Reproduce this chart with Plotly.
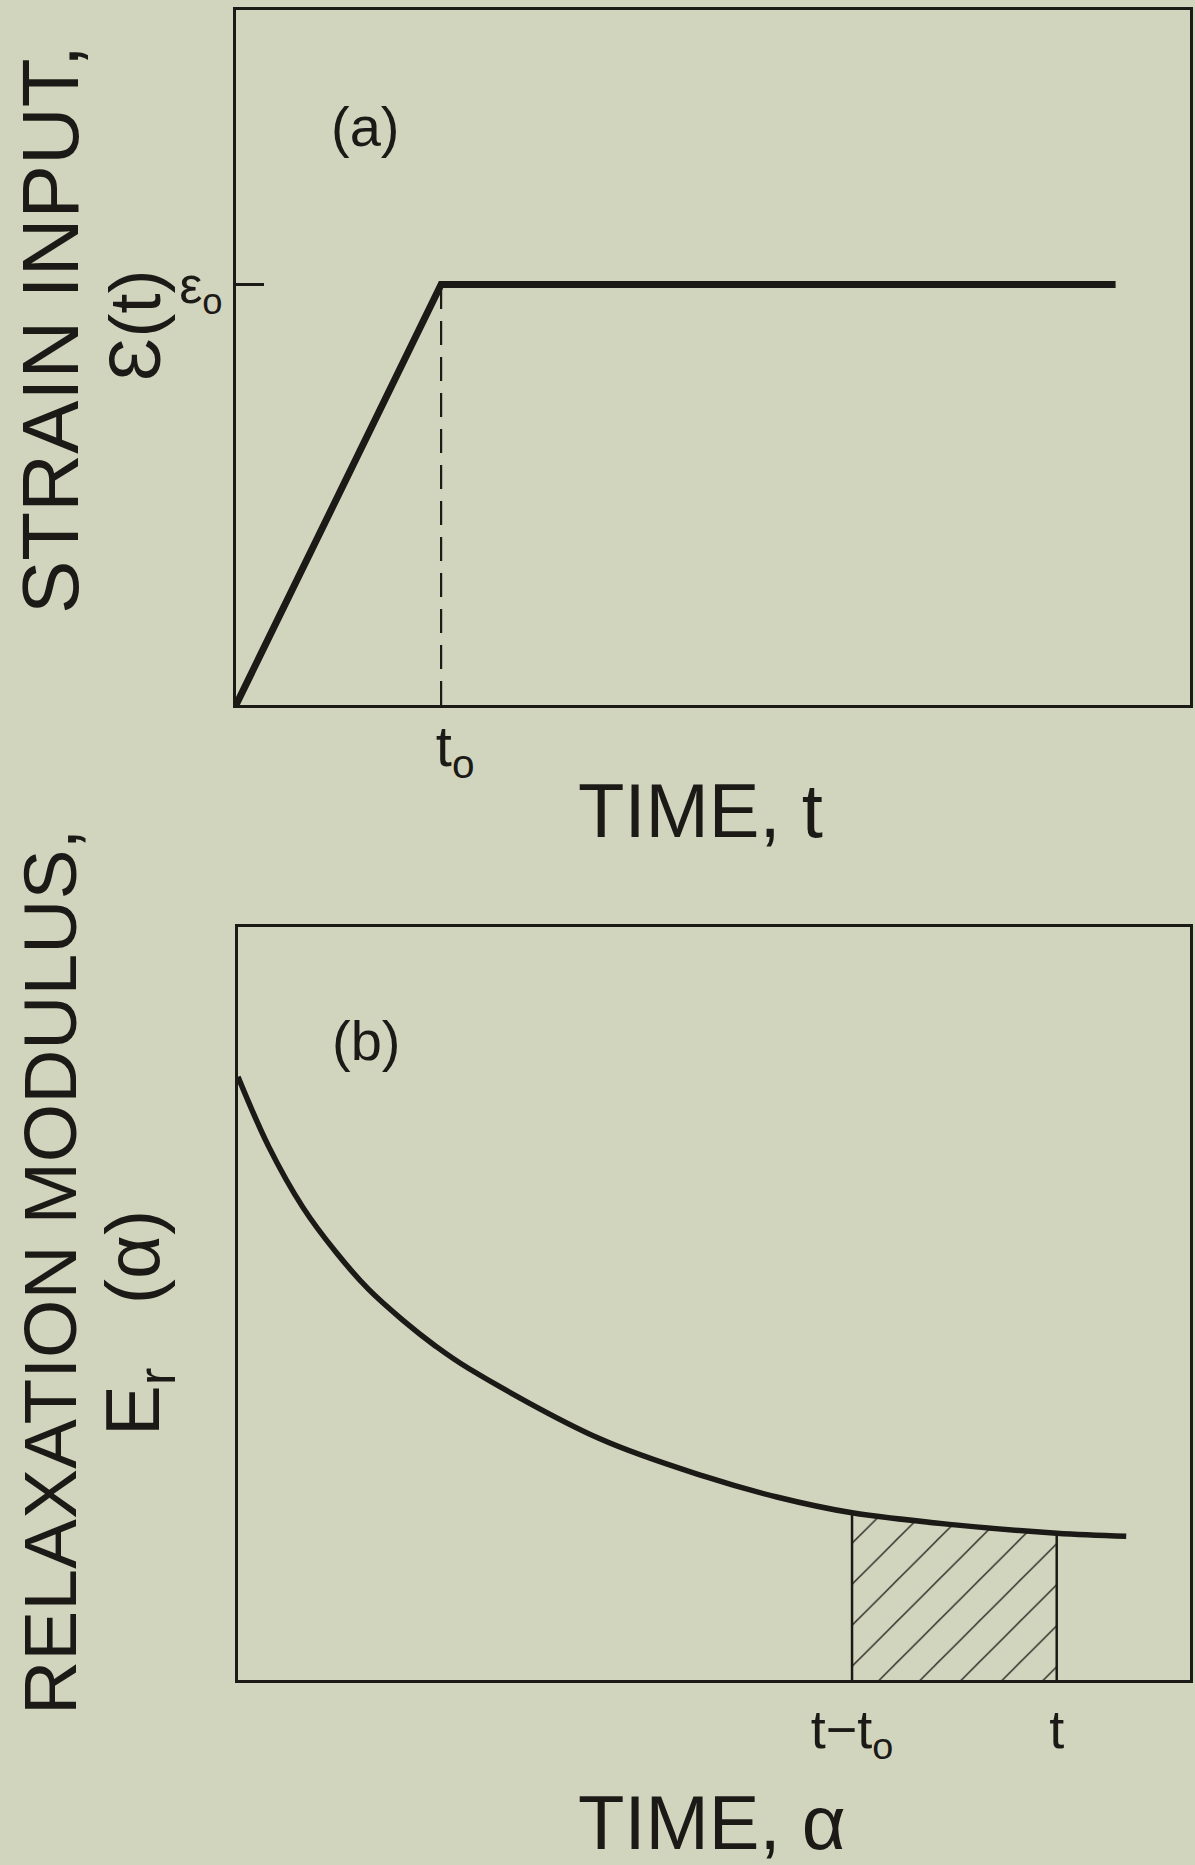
import plotly.graph_objects as go

# ---- Panel (a): ramp-and-hold strain input ----
t0 = 2.15            # end of the ramp
eps0 = 6.05          # held strain level
t_hold_end = 9.22    # where the drawn hold line stops
strain_time = [0.0, t0, t_hold_end]
strain_value = [0.0, eps0, eps0]

# ---- Panel (b): relaxation modulus E_r(alpha) ----
alpha = [0.0, 0.32, 0.68, 1.03, 1.37, 1.73, 2.07, 2.42, 3.79, 4.91, 5.66, 6.45, 7.53, 8.60, 9.33]
modulus = [8.01, 7.09, 6.28, 5.68, 5.19, 4.78, 4.44, 4.14, 3.21, 2.70, 2.43, 2.22, 2.06, 1.95, 1.91]
t_now = 8.60
t_start = 6.45       # t - t0

INK = "#1c1a16"
BG = "#d2d5be"
FONT = "Liberation Sans, Arial, sans-serif"
W, H = 1195, 1865

fig = go.Figure()

# strain ramp and hold
fig.add_trace(go.Scatter(x=strain_time, y=strain_value, mode="lines",
                         line=dict(color=INK, width=7), xaxis="x", yaxis="y"))
# dashed drop line at t0
fig.add_trace(go.Scatter(x=[t0, t0], y=[0, eps0], mode="lines",
                         line=dict(color=INK, width=2.2, dash="24px,12px"),
                         xaxis="x", yaxis="y"))

# hatched area under E_r between t - t0 and t
i0 = alpha.index(t_start)
i1 = alpha.index(t_now)
fig.add_trace(go.Scatter(x=alpha[i0:i1 + 1], y=modulus[i0:i1 + 1], mode="lines",
                         line=dict(width=0, color="rgba(0,0,0,0)"),
                         fill="tozeroy", fillcolor="rgba(0,0,0,0)",
                         fillpattern=dict(shape="/", size=29, solidity=0.045,
                                          fgcolor=INK, bgcolor="rgba(0,0,0,0)",
                                          fillmode="replace"),
                         xaxis="x2", yaxis="y2"))
# sides of the hatched strip
fig.add_trace(go.Scatter(x=[t_start, t_start, None, t_now, t_now],
                         y=[0, modulus[i0], None, 0, modulus[i1]], mode="lines",
                         line=dict(color=INK, width=2.5), xaxis="x2", yaxis="y2"))
# relaxation curve
fig.add_trace(go.Scatter(x=alpha, y=modulus, mode="lines",
                         line=dict(color=INK, width=5.5, shape="spline", smoothing=1.0),
                         xaxis="x2", yaxis="y2"))

frame = dict(showline=True, mirror=True, linewidth=3, linecolor=INK,
             showgrid=False, zeroline=False, range=[0, 10])

fig.update_layout(
    width=W, height=H, margin=dict(l=0, r=0, t=0, b=0),
    paper_bgcolor=BG, plot_bgcolor=BG, showlegend=False,
    font=dict(family=FONT, color=INK),
    xaxis=dict(frame, domain=[236 / W, 1190 / W], anchor="y",
               tickmode="array", tickvals=[t0], ticktext=["t<sub>o</sub>"],
               ticks="", ticklabelstandoff=-12, ticklabelshift=14,
               tickfont=dict(family=FONT, size=58, color=INK)),
    yaxis=dict(frame, domain=[1 - 705 / H, 1 - 10 / H], anchor="x",
               tickmode="array", tickvals=[eps0], ticktext=["ε<sub>o</sub>"],
               ticks="inside", ticklen=28, tickwidth=2.5, tickcolor=INK,
               ticklabelstandoff=0,
               tickfont=dict(family=FONT, size=52, color=INK)),
    xaxis2=dict(frame, domain=[238 / W, 1190 / W], anchor="y2",
                tickmode="array", tickvals=[t_start, t_now],
                ticktext=["t\u2212t<sub>o</sub>", "t"],
                ticks="", ticklabelstandoff=0,
                tickfont=dict(family=FONT, size=54, color=INK)),
    yaxis2=dict(frame, domain=[1 - 1680 / H, 1 - 927 / H], anchor="x2",
                showticklabels=False, ticks=""),
)

def label(text, x, y, size, angle=0):
    fig.add_annotation(text=text, x=x / W, y=1 - y / H, xref="paper", yref="paper",
                       showarrow=False, textangle=angle, xanchor="center", yanchor="middle",
                       font=dict(family=FONT, size=size, color=INK))

label("(a)", 365, 126, 56)
label("(b)", 366, 1040, 56)
label("TIME, t", 700, 811, 76)
label("TIME, α", 712, 1822, 76)
label("STRAIN INPUT,", 50, 330, 80, -90)
label("Ɛ(t)", 135, 326, 72, -90)
label("RELAXATION MODULUS,", 50, 1272, 75, -90)
label("E<sub>r</sub>   (α)", 138, 1323, 76, -90)

fig.write_html("out.html")
